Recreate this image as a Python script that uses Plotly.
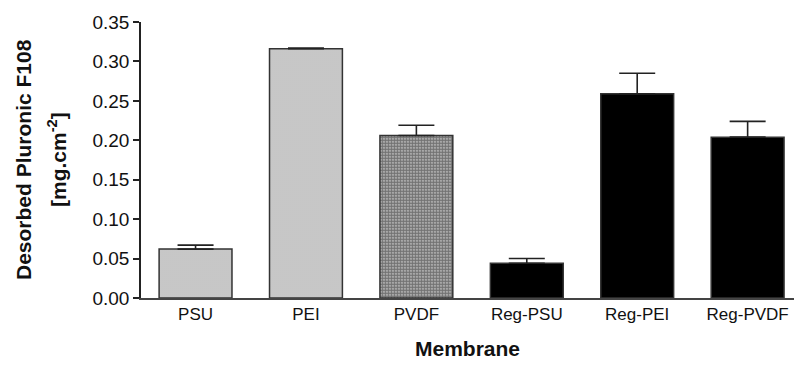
import plotly.graph_objects as go

categories = ["PSU", "PEI", "PVDF", "Reg-PSU", "Reg-PEI", "Reg-PVDF"]
values = [0.062, 0.316, 0.206, 0.044, 0.259, 0.204]
errors = [0.005, 0.001, 0.013, 0.006, 0.026, 0.020]
y_ticks = [0.00, 0.05, 0.10, 0.15, 0.20, 0.25, 0.30, 0.35]
y_title_lines = ["Desorbed Pluronic F108", "[mg.cm<sup>-2</sup>]"]
x_title = "Membrane"

light = dict(color="#c4c4c4", pattern=dict(shape=".", fgcolor="#9c9c9c", bgcolor="#cfcfcf", size=2, solidity=0.35))
medium = dict(color="#777777", pattern=dict(shape=".", fgcolor="#1a1a1a", bgcolor="#cccccc", size=3, solidity=0.75))
dark = dict(color="#000000")
styles = [light, light, medium, dark, dark, dark]

fig = go.Figure()
for cat, v, e, st in zip(categories, values, errors, styles):
    marker = dict(st)
    marker["line"] = dict(color="#333333", width=1.5)
    fig.add_trace(go.Bar(
        x=[cat], y=[v],
        marker=marker,
        error_y=dict(type="data", array=[e], arrayminus=[0], symmetric=False,
                     color="#222222", thickness=1.6, width=18),
        showlegend=False,
    ))

font = "Liberation Sans, Arial, sans-serif"
L, R = 141, 0
W = 794
pw = W - L - R

fig.update_layout(
    width=W, height=367,
    margin=dict(l=L, r=R, t=22, b=69),
    plot_bgcolor="white", paper_bgcolor="white",
    bargap=0.34,
    font=dict(family=font, size=18, color="#111111"),
    xaxis=dict(
        categoryorder="array", categoryarray=categories,
        range=[-0.494, 5.42],
        showline=True, linecolor="#444444", linewidth=2,
        ticks="", showgrid=False, zeroline=False,
        tickfont=dict(size=17),
        title=dict(text="<b>" + x_title + "</b>", font=dict(size=21), standoff=18),
    ),
    yaxis=dict(
        range=[0, 0.35], tickvals=y_ticks, tickformat=".2f",
        showline=True, linecolor="#222222", linewidth=1.5,
        ticks="outside", ticklen=6, tickwidth=1.5, tickcolor="#222222",
        showgrid=False, zeroline=False,
        tickfont=dict(size=19),
    ),
)

for px, txt in zip([23, 57], y_title_lines):
    fig.add_annotation(
        text="<b>" + txt + "</b>", xref="paper", yref="paper",
        x=(px - L) / pw, y=0.5, xanchor="center", yanchor="middle",
        textangle=-90, showarrow=False, font=dict(size=21, family=font, color="#111111"),
    )

fig.write_html("out.html", config={"displayModeBar": False},
               post_script="document.body.style.margin='0px';")
